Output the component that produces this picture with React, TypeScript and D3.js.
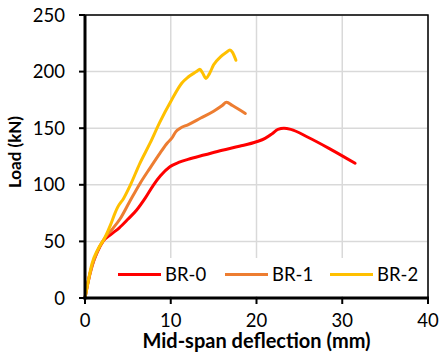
import React from "react";
import * as d3 from "d3";

const xTicks = [0, 10, 20, 30, 40];
const yTicks = [0, 50, 100, 150, 200, 250];

const br0: [number, number][] = [
  [0, 0], [0.3, 12], [0.8, 28], [1.4, 40], [2.1, 50], [3, 56], [4, 62], [5, 69.5], [6, 77.5], [7, 88],
  [8, 100], [8.8, 108], [9.9, 116], [11, 120], [12, 122.5], [14, 126.5], [16, 130.5], [18, 134],
  [20, 138], [21, 141], [21.8, 145], [22.5, 149], [23.2, 150], [24, 149], [26, 142], [28.5, 132], [31.5, 119],
];
const br1: [number, number][] = [
  [0, 0], [0.3, 12], [0.9, 30], [1.5, 42], [2.3, 53], [3.2, 61], [4.1, 70], [5.2, 85], [6.4, 101],
  [7.6, 115], [8.75, 128], [9.6, 137], [10.1, 141], [10.6, 147], [11.1, 150], [12, 153], [13.5, 159],
  [15, 165], [16, 170], [16.5, 173], [17.2, 170], [18.7, 163],
];
const br2: [number, number][] = [
  [0, 0], [0.3, 12], [0.8, 30], [1.5, 43], [2.3, 53], [3, 65], [3.5, 75], [3.8, 80], [4.5, 88],
  [5.3, 100], [6.4, 119], [7.6, 137], [8.7, 155], [10.1, 175], [11.3, 190], [12, 195], [13, 200],
  [13.4, 202], [13.7, 199], [14.1, 194], [14.5, 198], [15, 206], [15.8, 213], [16.5, 217], [16.9, 219],
  [17.2, 217], [17.6, 210],
];

const seriesNames = ["BR-0", "BR-1", "BR-2"];
const seriesColors = ["#FF0000", "#ED7D31", "#FFC000"];
const seriesData = [br0, br1, br2];

const W = 439, H = 354;
const L = 85, R = 428, T = 15, B = 298;
const font = "Lato, 'Open Sans', sans-serif";

export default function App() {
  const x = d3.scaleLinear().domain([0, 40]).range([L, R]);
  const y = d3.scaleLinear().domain([0, 250]).range([B, T]);
  const line = d3.line<[number, number]>().x(d => x(d[0])).y(d => y(d[1])).curve(d3.curveMonotoneX);
  const legendX = [118, 225, 330];
  const legendY = 274.5;
  return (
    <svg width={W} height={H} style={{ position: "absolute", left: 0, top: 0, background: "#fff" }}>
      <rect x={0} y={0} width={W} height={H} fill="#fff" />
      {xTicks.map(t => (
        <line key={"gx" + t} x1={x(t)} x2={x(t)} y1={T} y2={B} stroke="#d9d9d9" strokeWidth={1.5} />
      ))}
      {yTicks.map(t => (
        <line key={"gy" + t} x1={L} x2={R} y1={y(t)} y2={y(t)} stroke="#d9d9d9" strokeWidth={1.5} />
      ))}
      <rect x={110} y={258} width={305} height={38} fill="#fff" />
      {seriesData.map((d, i) => (
        <path key={i} d={line(d) || ""} fill="none" stroke={seriesColors[i]} strokeWidth={3} strokeLinejoin="round" strokeLinecap="round" />
      ))}
      <rect x={L} y={T} width={R - L} height={B - T} fill="none" stroke="#000" strokeWidth={1.5} />
      <line x1={L} x2={L} y1={T} y2={B + 1.5} stroke="#000" strokeWidth={3} />
      <line x1={L - 1.5} x2={R + 1} y1={B} y2={B} stroke="#000" strokeWidth={3} />
      {yTicks.map(t => (
        <g key={"ty" + t}>
          <line x1={L - 6} x2={L} y1={y(t)} y2={y(t)} stroke="#000" strokeWidth={2} />
          <text x={65} y={y(t)} dy="0.36em" textAnchor="end" fontFamily={font} fontSize={18.5} fill="#000">{t}</text>
        </g>
      ))}
      {xTicks.map(t => (
        <g key={"tx" + t}>
          <line x1={x(t)} x2={x(t)} y1={B} y2={B + 6} stroke="#000" strokeWidth={2} />
          <text x={x(t)} y={327} textAnchor="middle" fontFamily={font} fontSize={18.5} fill="#000">{t}</text>
        </g>
      ))}
      {seriesNames.map((n, i) => (
        <g key={n}>
          <line x1={legendX[i]} x2={legendX[i] + 43} y1={legendY} y2={legendY} stroke={seriesColors[i]} strokeWidth={3} />
          <text x={legendX[i] + 47} y={legendY} dy="0.36em" fontFamily={font} fontSize={18.5} fill="#000">{n}</text>
        </g>
      ))}
      <text x={(L + R) / 2} y={347.5} textAnchor="middle" fontFamily={font} fontWeight="bold" fontSize={20} fill="#000">Mid-span deflection (mm)</text>
      <text transform={`translate(21,152) rotate(-90)`} textAnchor="middle" fontFamily={font} fontWeight="bold" fontSize={17} fill="#000">Load (kN)</text>
    </svg>
  );
}
